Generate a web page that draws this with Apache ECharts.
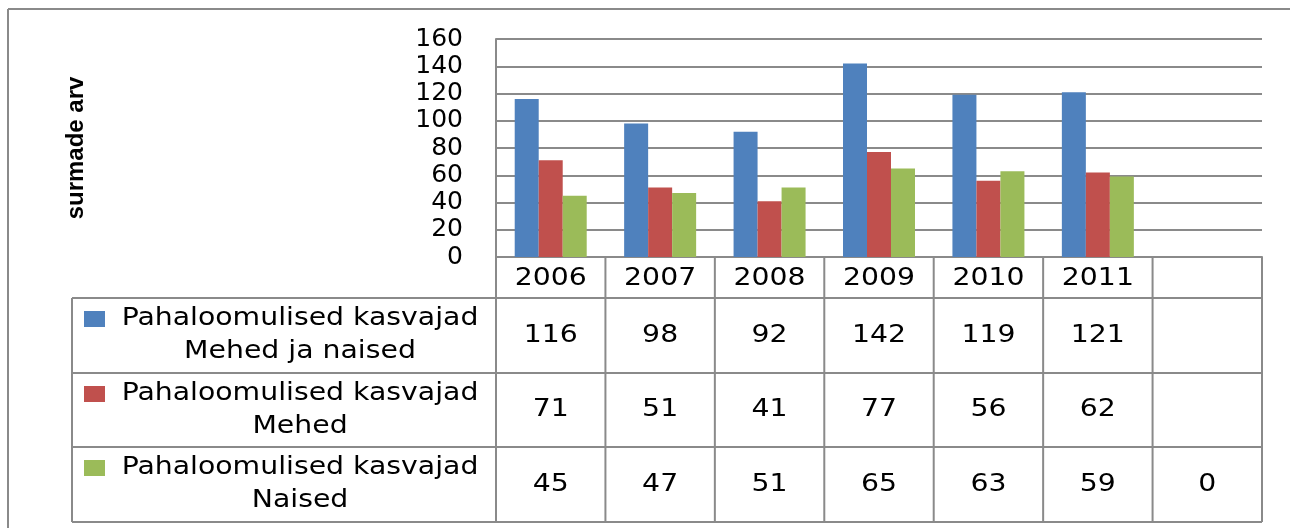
<!DOCTYPE html>
<html>
<head>
<meta charset="utf-8">
<script src="https://cdn.jsdelivr.net/npm/echarts@6/dist/echarts.min.js"></script>
<style>
  html, body { margin: 0; padding: 0; background: #fff; }
  #chart { width: 1290px; height: 528px; }
</style>
</head>
<body>
<div id="chart"></div>
<script>
var years = ["2006", "2007", "2008", "2009", "2010", "2011", ""];
var seriesNames = [
  "Pahaloomulised kasvajad\nMehed ja naised",
  "Pahaloomulised kasvajad\nMehed",
  "Pahaloomulised kasvajad\nNaised",
];
var totalValues = [116, 98, 92, 142, 119, 121, null];
var menValues = [71, 51, 41, 77, 56, 62, null];
var womenValues = [45, 47, 51, 65, 63, 59, 0];
var yTicks = [0, 20, 40, 60, 80, 100, 120, 140, 160];

var colors = ["#4F81BD", "#C0504D", "#9BBB59"];
var gray = "#8a8a8a";
var font = "DejaVu Sans";

var chart = echarts.init(document.getElementById("chart"));
var allValues = [totalValues, menValues, womenValues];

chart.setOption({
  animation: false,
  backgroundColor: "#fff",
  grid: { left: 496, right: 28, top: 39, bottom: 271 },
  xAxis: {
    type: "category",
    data: years,
    axisTick: { show: false },
    axisLabel: { show: false },
    axisLine: { lineStyle: { color: gray, width: 2 } },
  },
  yAxis: {
    type: "value",
    min: yTicks[0],
    max: yTicks[yTicks.length - 1],
    interval: yTicks[1] - yTicks[0],
    name: "surmade arv",
    nameLocation: "middle",
    nameRotate: 90,
    nameGap: 408,
    nameTextStyle: {
      fontFamily: "Liberation Sans",
      fontWeight: "bold",
      fontSize: 24,
      color: "#000",
    },
    axisLine: { show: true, lineStyle: { color: gray, width: 2 } },
    axisTick: { show: false },
    splitLine: { lineStyle: { color: gray, width: 2 } },
    axisLabel: {
      margin: 33,
      fontFamily: font,
      fontSize: 25,
      color: "#000",
    },
  },
  series: allValues.map(function (vals, i) {
    return {
      name: seriesNames[i],
      type: "bar",
      data: vals,
      barWidth: 24,
      barGap: "0%",
      itemStyle: { color: colors[i] },
    };
  }),
});

// data table under the plot, laid out from the axis scale
function drawTable() {
  var c0 = chart.convertToPixel({ xAxisIndex: 0 }, 0);
  var c1 = chart.convertToPixel({ xAxisIndex: 0 }, 1);
  var band = c1 - c0;
  var axisY = chart.convertToPixel({ yAxisIndex: 0 }, 0);
  var leftX = 72;
  var colLeft = c0 - band / 2;
  var colRight = colLeft + band * years.length;
  var rowTops = [axisY, 298, 373, 447, 522];
  var els = [];
  var line = function (x1, y1, x2, y2) {
    els.push({
      type: "line",
      shape: { x1: x1, y1: y1, x2: x2, y2: y2 },
      style: { stroke: gray, lineWidth: 2 },
      z: 10,
    });
  };
  var text = function (x, y, str) {
    els.push({
      type: "text",
      x: x,
      y: y,
      scaleX: 1.18,
      style: {
        text: str,
        fill: "#000",
        font: "24px " + font,
        textAlign: "center",
        textVerticalAlign: "middle",
        lineHeight: 33,
      },
      z: 11,
    });
  };

  // chart frame
  line(8, 9, 1290, 9);
  line(8, 9, 8, 528);

  // horizontal rules
  for (var r = 1; r < rowTops.length; r++) line(leftX, rowTops[r], colRight, rowTops[r]);
  // vertical rules
  for (var k = 0; k <= years.length; k++) {
    var x = colLeft + band * k;
    line(x, axisY, x, rowTops[rowTops.length - 1]);
  }
  line(leftX, rowTops[1], leftX, rowTops[rowTops.length - 1]);

  // year row
  years.forEach(function (y, i) {
    text(c0 + band * i, (rowTops[0] + rowTops[1]) / 2 + 1, y);
  });

  // series rows
  allValues.forEach(function (vals, s) {
    var top = rowTops[s + 1];
    var mid = (top + rowTops[s + 2]) / 2;
    els.push({
      type: "rect",
      shape: { x: 84, y: top + 13, width: 21, height: 16 },
      style: { fill: colors[s] },
      z: 11,
    });
    text(300, mid, seriesNames[s]);
    vals.forEach(function (v, i) {
      if (v !== null) text(c0 + band * i, mid, String(v));
    });
  });

  chart.setOption({ graphic: { elements: els } });
}
drawTable();
</script>
</body>
</html>
